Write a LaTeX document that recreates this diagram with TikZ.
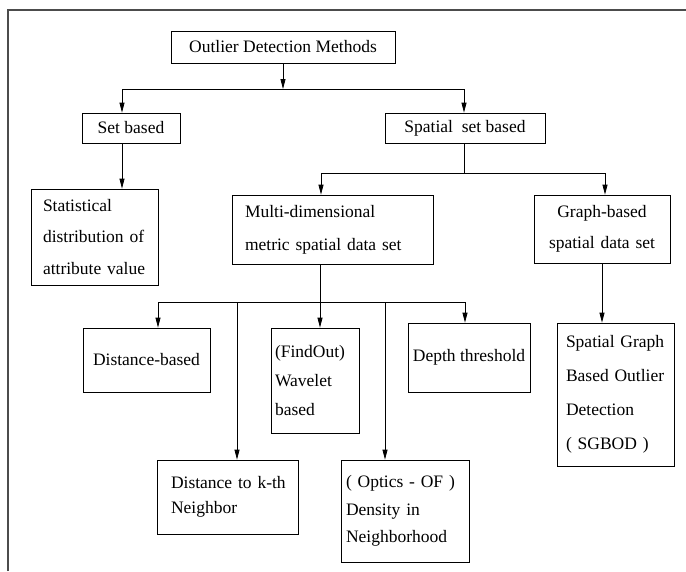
\documentclass[tikz,border=0pt]{standalone}
\usepackage{fontspec}
\setmainfont{Liberation Serif}
\usetikzlibrary{arrows.meta}
\begin{document}
\begin{tikzpicture}[x=1pt,y=-1pt,line width=0.8pt,
  box/.style={draw, line width=0.8pt, inner ysep=0pt, font=\fontsize{17.5}{21}\selectfont},
  arr/.style={-{Triangle[length=10pt,width=5pt]}}]
\useasboundingbox (0,0) rectangle (686,571);
% frame
\draw[black!70, line width=1.5pt] (8,571) -- (8,10) -- (686,10);
% boxes
\node[box, minimum width=224pt, minimum height=32pt] (root) at (283,47) {Outlier Detection Methods};
\node[box, minimum width=98pt, minimum height=30pt] (setb) at (131,128) {Set based};
\node[box, minimum width=160pt, minimum height=30pt] (spat) at (465,128) {Spatial\ \ set based};
\node[box, minimum width=127pt, minimum height=96pt, text width=103pt, inner xsep=12pt, align=left,
  font=\fontsize{17.5}{31.5}\selectfont] (stat) at (94.5,237) {Statistical\\distribution of\\attribute value};
\node[box, minimum width=201pt, minimum height=69pt, text width=175pt, inner xsep=13pt, align=left,
  font=\fontsize{17.5}{33}\selectfont] (multi) at (332.5,229.5) {Multi-dimensional\\metric spatial data set};
\node[box, minimum width=136pt, minimum height=68pt, text width=120pt, inner xsep=8pt, align=center,
  font=\fontsize{17.5}{31}\selectfont] (graph) at (602,229) {Graph-based\\spatial data set};
\node[box, minimum width=127pt, minimum height=64pt] (distb) at (146.5,360) {Distance-based};
\node[box, minimum width=88pt, minimum height=105pt, text width=80pt, inner xsep=4pt, align=left,
  font=\fontsize{17.5}{29}\selectfont] (wave) at (315,380.5) {(FindOut)\\Wavelet\\based};
\node[box, minimum width=122pt, minimum height=69pt, inner xsep=2pt] (depth) at (469,357.5) {Depth threshold};
\node[box, minimum width=117pt, minimum height=143pt, text width=99pt, inner xsep=9pt, align=left,
  font=\fontsize{17.5}{34}\selectfont] (sgbod) at (615.5,394.5) {\mbox{Spatial Graph}\\\mbox{Based Outlier}\\Detection\\( SGBOD )};
\node[box, minimum width=141pt, minimum height=74pt, text width=113pt, inner xsep=14pt, align=left,
  font=\fontsize{17.5}{25}\selectfont] (dk) at (227.5,497) {\mbox{Distance to k-th}\\Neighbor};
\node[box, minimum width=128pt, minimum height=102pt, text width=118pt, inner xsep=5pt, align=left,
  font=\fontsize{17.5}{27.5}\selectfont] (optics) at (405,511) {\mbox{( Optics - OF )}\\Density in\\Neighborhood};
% junction coordinates
\coordinate (b1C) at (283,89);
\coordinate (b1L) at (122,89);
\coordinate (b1R) at (464,89);
\coordinate (b2C) at (464,173);
\coordinate (b2L) at (321,173);
\coordinate (b2R) at (605,173);
\coordinate (b3L) at (158,302);
\coordinate (b3a) at (237,302);
\coordinate (b3C) at (320,302);
\coordinate (b3b) at (385,302);
\coordinate (b3R) at (465,302);
% connectors
\draw[arr] (root.south) -- (b1C);
\draw (b1L) -- (b1R);
\draw[arr] (b1L) -- (b1L |- setb.north);
\draw[arr] (b1R) -- (b1R |- spat.north);
\draw[arr] (b1L |- setb.south) -- (b1L |- stat.north);
\draw (b2C |- spat.south) -- (b2C);
\draw (b2L) -- (b2R);
\draw[arr] (b2L) -- (b2L |- multi.north);
\draw[arr] (b2R) -- (b2R |- graph.north);
\draw[arr] (b3C |- multi.south) -- (b3C |- wave.north);
\draw (b3L) -- (b3R);
\draw[arr] (b3L) -- (b3L |- distb.north);
\draw[arr] (b3a) -- (b3a |- dk.north);
\draw[arr] (b3b) -- (b3b |- optics.north);
\draw[arr] (b3R) -- (b3R |- depth.north);
\draw[arr] (graph.south) -- (graph.south |- sgbod.north);
\end{tikzpicture}
\end{document}
